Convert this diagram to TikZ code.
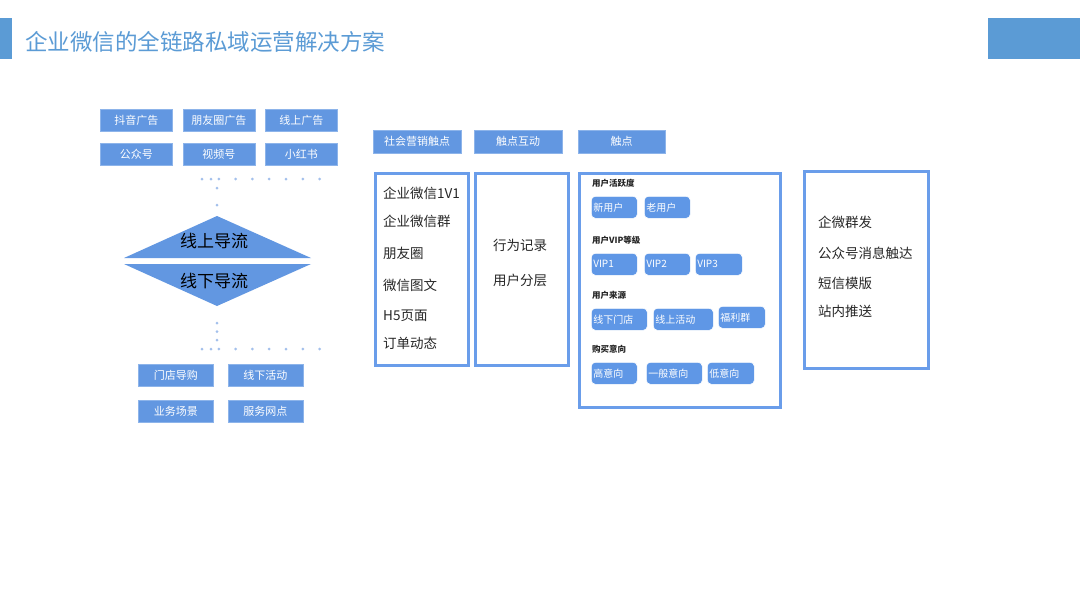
\documentclass[tikz,border=0pt]{standalone}
\usepackage{fontspec}
\setmainfont{Noto Sans CJK SC}
\usetikzlibrary{matrix}
\usetikzlibrary{fit}
\usetikzlibrary{positioning}

\definecolor{headblue}{HTML}{5B9BD5}
\definecolor{tagblue}{HTML}{6297E1}
\definecolor{tagline}{HTML}{8DB4EA}
\definecolor{chipblue}{HTML}{5F97E6}
\definecolor{panelblue}{HTML}{6A9DEA}
\definecolor{dotblue}{HTML}{A3C0EC}
\definecolor{inktext}{HTML}{262626}

\tikzset{
  tag/.style={draw=tagline,fill=tagblue,text=white,font=\fontsize{11}{12}\selectfont,
    minimum width=72pt,minimum height=22pt,inner sep=0pt,outer sep=0pt,line width=0.6pt},
  panel/.style={draw=panelblue,line width=3pt,anchor=north west,inner sep=0pt},
  item/.style={anchor=west,text=inktext,font=\fontsize{13.5}{15}\selectfont,inner sep=0pt},
  group/.style={anchor=west,text=inktext,font=\bfseries\fontsize{8.5}{10}\selectfont,inner sep=0pt},
  chip/.style={draw=white,fill=chipblue,text=white,rounded corners=4pt,anchor=north west,
    font=\fontsize{10}{11}\selectfont,minimum height=22pt,inner sep=0pt,align=left,line width=0.6pt},
  flow/.style={text=black,font=\fontsize{17}{18}\selectfont,inner sep=0pt},
  dotrow/.style={dotblue,line width=3pt,line cap=round,dash pattern=on 0pt off 16.8pt}
}

\begin{document}
\begin{tikzpicture}[x=1pt,y=-1pt]

  \useasboundingbox [fill=white] (0,0) rectangle (1080,608);

  % header
  \fill [headblue] (0,18) rectangle (12,59);
  \fill [headblue] (988,18) rectangle (1080,59);
  \node [anchor=west,text=headblue,font=\fontsize{22.5}{24}\selectfont,inner sep=0pt] (title) at (25,42)
    {企业微信的全链路私域运营解决方案};

  % online channels
  \matrix [matrix of nodes,nodes={tag},column sep=10pt,row sep=11pt,inner sep=0pt,outer sep=0pt,
    anchor=north west] (online) at (100,109) {
    |(douyin)| 抖音广告 & |(moments_ad)| 朋友圈广告 & |(web_ad)| 线上广告 \\
    |(mp)| 公众号 & |(channels)| 视频号 & |(xhs)| 小红书 \\
  };

  % diamond
  \coordinate (d_top) at (217,216);
  \coordinate (d_left_a) at (124,258);
  \coordinate (d_right_a) at (311,258);
  \coordinate (d_left_b) at (124,264);
  \coordinate (d_right_b) at (311,264);
  \coordinate (d_bot) at (217,306);
  \fill [tagblue] (d_top) -- (d_right_a) -- (d_left_a) -- cycle;
  \fill [tagblue] (d_left_b) -- (d_right_b) -- (d_bot) -- cycle;
  \node [flow] (up_flow) at (214,241) {线上导流};
  \node [flow] (down_flow) at (214,281) {线下导流};

  % dotted guides
  \coordinate (dot_t1) at (202,179);
  \coordinate (dot_t2) at (329,179);
  \coordinate (dot_b1) at (202,349);
  \coordinate (dot_b2) at (329,349);
  \draw [dotrow] (dot_t1) -- (dot_t2);
  \draw [dotrow] (dot_b1) -- (dot_b2);
  \draw [dotrow,dash pattern=on 0pt off 17pt] (217,188) -- (217,206);
  \draw [dotrow,dash pattern=on 0pt off 8.5pt] (217,323) -- (217,341);
  \fill [dotblue] (211,179) circle (1.5pt) (211,349) circle (1.5pt);

  % offline channels
  \matrix [matrix of nodes,nodes={tag,minimum width=75pt},column sep=14pt,row sep=13pt,inner sep=0pt,
    outer sep=0pt,anchor=north west] (offline) at (138,364) {
    |(store)| 门店导购 & |(event)| 线下活动 \\
    |(scene)| 业务场景 & |(outlet)| 服务网点 \\
  };

  % column headers
  \node [tag,minimum width=88pt,minimum height=23pt,anchor=north west] (h_social) at (373,130) {社会营销触点};
  \node [tag,minimum width=88pt,minimum height=23pt,anchor=north west] (h_interact) at (474,130) {触点互动};
  \node [tag,minimum width=87pt,minimum height=23pt,anchor=north west] (h_touch) at (578,130) {触点};

  % panels
  \node [panel,minimum width=93pt,minimum height=192pt] (p_social) at (374,172) {};
  \node [panel,minimum width=93pt,minimum height=192pt] (p_interact) at (474,172) {};
  \node [panel,minimum width=201pt,minimum height=234pt] (p_touch) at (578,172) {};
  \node [panel,minimum width=124pt,minimum height=197pt] (p_reach) at (803,170) {};

  % social touch points
  \node [item] (wx1v1) at (383,193) {企业微信1V1};
  \node [item] (wxgroup) at (383,221) {企业微信群};
  \node [item] (moments) at (383,253) {朋友圈};
  \node [item] (article) at (383,285) {微信图文};
  \node [item] (h5) at (383,316) {H5页面};
  \node [item] (order) at (383,343) {订单动态};

  % interaction
  \node [item,anchor=center] (behavior) at (520,245) {行为记录};
  \node [item,anchor=center] (layer) at (520,280) {用户分层};

  % touch segments
  \node [group] (g_active) at (592,183) {用户活跃度};
  \node [chip,minimum width=46pt,text width=42pt] (new_user) at (591,196) {新用户};
  \node [chip,minimum width=46pt,text width=42pt] (old_user) at (644,196) {老用户};

  \node [group] (g_vip) at (592,240) {用户VIP等级};
  \node [chip,minimum width=46pt,text width=42pt] (vip1) at (591,253) {VIP1};
  \node [chip,minimum width=46pt,text width=42pt] (vip2) at (644,253) {VIP2};
  \node [chip,minimum width=47pt,text width=43pt] (vip3) at (695,253) {VIP3};

  \node [group] (g_source) at (592,295) {用户来源};
  \node [chip,minimum width=56pt,text width=52pt] (src_store) at (591,308) {线下门店};
  \node [chip,minimum width=60pt,text width=56pt] (src_event) at (653,308) {线上活动};
  \node [chip,minimum width=47pt,text width=43pt] (src_group) at (718,306) {福利群};

  \node [group] (g_intent) at (592,349) {购买意向};
  \node [chip,minimum width=46pt,text width=42pt] (high) at (591,362) {高意向};
  \node [chip,minimum width=56pt,text width=52pt] (mid) at (646,362) {一般意向};
  \node [chip,minimum width=47pt,text width=43pt] (low) at (707,362) {低意向};

  % reach
  \node [item] (mass) at (818,222) {企微群发};
  \node [item] (mp_msg) at (818,253) {公众号消息触达};
  \node [item] (sms) at (818,283) {短信模版};
  \node [item] (push) at (818,311) {站内推送};

\end{tikzpicture}
\end{document}
